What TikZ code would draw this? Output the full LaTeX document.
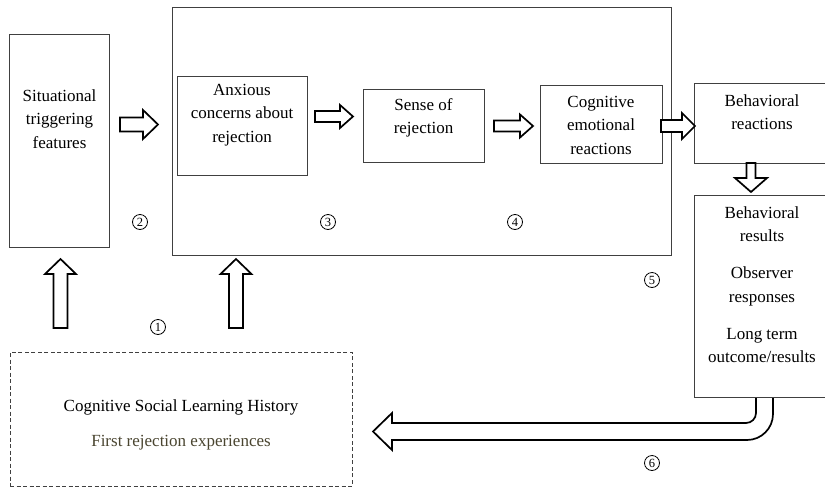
\documentclass[tikz,border=0pt]{standalone}
\usepackage{fontspec}
\setmainfont{Liberation Serif}
\usetikzlibrary{calc}
\definecolor{edge}{HTML}{404040}
\definecolor{histtext}{HTML}{4A4530}
\tikzset{
  box/.style={draw=edge, line width=0.9pt, inner sep=0pt},
  dashbox/.style={draw=edge, line width=0.8pt, dash pattern=on 4pt off 2.5pt, inner sep=0pt},
  txt/.style={align=center, font=\fontsize{17}{23.5}\selectfont, inner sep=0pt},
  barrow/.style={draw=black, fill=white, line width=1.7pt, line join=miter},
  num/.style={circle, draw=black, line width=0.8pt, minimum size=15pt, inner sep=0pt, font=\fontsize{12.5}{12.5}\selectfont},
}
% right block arrow: tail, tip, shaft half width, head half width, head length
\newcommand\rarr[5]{\draw[barrow] let \p1=(#1), \p2=(#2) in
  (\x1,\y1+#3pt) -- (\x2-#5pt,\y1+#3pt) -- (\x2-#5pt,\y1+#4pt) -- (\x2,\y1)
  -- (\x2-#5pt,\y1-#4pt) -- (\x2-#5pt,\y1-#3pt) -- (\x1,\y1-#3pt) -- cycle;}
\newcommand\uarr[5]{\draw[barrow] let \p1=(#1), \p2=(#2) in
  (\x1-#3pt,\y1) -- (\x1-#3pt,\y2-#5pt) -- (\x1-#4pt,\y2-#5pt) -- (\x1,\y2)
  -- (\x1+#4pt,\y2-#5pt) -- (\x1+#3pt,\y2-#5pt) -- (\x1+#3pt,\y1) -- cycle;}
\newcommand\darr[5]{\draw[barrow] let \p1=(#1), \p2=(#2) in
  (\x1-#3pt,\y1) -- (\x1-#3pt,\y2+#5pt) -- (\x1-#4pt,\y2+#5pt) -- (\x1,\y2)
  -- (\x1+#4pt,\y2+#5pt) -- (\x1+#3pt,\y2+#5pt) -- (\x1+#3pt,\y1) -- cycle;}
\begin{document}
\begin{tikzpicture}[x=1pt,y=-1pt]
\useasboundingbox (0,0) rectangle (825,488);
\clip (0,0) rectangle (825,488);
\fill[white] (0,0) rectangle (825,488);

% boxes
\node[box, minimum width=99.5pt, minimum height=213pt] (sit) at (59.25,140.5) {};
\node[box, minimum width=499pt, minimum height=248pt] (big) at (421.5,131) {};
\node[box, minimum width=130pt, minimum height=99pt] (anx) at (242,125.5) {};
\node[box, minimum width=121pt, minimum height=73pt] (sen) at (423.5,125.5) {};
\node[box, minimum width=122pt, minimum height=78pt] (cog) at (601,124) {};
\node[box, minimum width=138pt, minimum height=80pt] (brx) at (763,123) {};
\node[box, minimum width=138pt, minimum height=202pt] (bres) at (763,296) {};
\node[dashbox, minimum width=342pt, minimum height=134pt] (hist) at (181,419) {};

% texts
\node[txt] (tsit) at (59.5,119) {Situational\\triggering\\features};
\node[txt] (tanx) at (242,115) {Anxious\\concerns about\\rejection};
\node[txt] (tsen) at (423.5,118) {Sense of\\rejection};
\node[txt] (tcog) at (601,125) {Cognitive\\emotional\\reactions};
\node[txt] (tbrx) at (762,112) {Behavioral\\reactions};
\node[txt] (tbres) at (762,284.5) {Behavioral\\results\\[13.5pt]Observer\\responses\\[13.5pt]Long term\\outcome/results};
\node[txt] (thist) at (181,407) {Cognitive Social Learning History};
\node[txt, text=histtext] (tfirst) at (181,443) {First rejection experiences};

% arrow end points
\coordinate (a2t) at (120,124.5); \coordinate (a2h) at (158,124.5);
\coordinate (a3t) at (315,116.5); \coordinate (a3h) at (353,116.5);
\coordinate (a4t) at (494,126);   \coordinate (a4h) at (533,126);
\coordinate (a5t) at (661,126);   \coordinate (a5h) at (695,126);
\coordinate (adt) at (751,163);   \coordinate (adh) at (751,192);
\coordinate (ault) at (60.5,328); \coordinate (aulh) at (60.5,259);
\coordinate (aurt) at (236,328);  \coordinate (aurh) at (236,259);

\rarr{a2t}{a2h}{7}{14.5}{15}
\rarr{a3t}{a3h}{5.5}{11.5}{13}
\rarr{a4t}{a4h}{5.5}{11.5}{13}
\rarr{a5t}{a5h}{6}{13}{13}
\darr{adt}{adh}{4.5}{16}{14}
\uarr{ault}{aulh}{7}{15.5}{15}
\uarr{aurt}{aurh}{7}{15.5}{15}

% return arrow
\draw[barrow] (773,397) -- (773,414) arc[start angle=0,end angle=90,radius=26]
  -- (392,440) -- (392,450) -- (373,431.5) -- (392,413) -- (392,423)
  -- (746,423) arc[start angle=90,end angle=0,radius=10] -- (756,397);
\draw[edge, line width=0.9pt] (694,397) -- (825,397);

% circled numbers
\node[num] (n1) at (158,327) {1};
\node[num] (n2) at (140,222) {2};
\node[num] (n3) at (328,222) {3};
\node[num] (n4) at (515,222) {4};
\node[num] (n5) at (652,280) {5};
\node[num] (n6) at (652,463) {6};
\end{tikzpicture}
\end{document}
